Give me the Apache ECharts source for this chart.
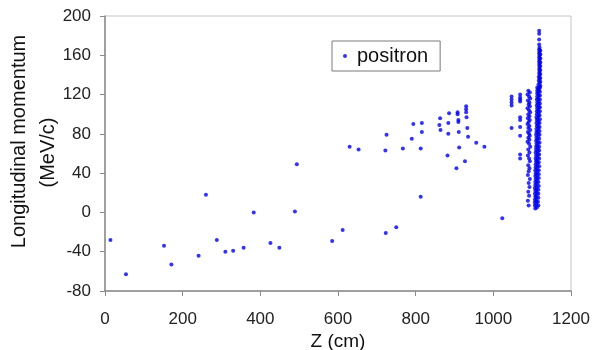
<!DOCTYPE html>
<html>
<head>
<meta charset="utf-8">
<script src="https://cdn.jsdelivr.net/npm/echarts@6/dist/echarts.min.js"></script>
<style>
  html, body { margin: 0; padding: 0; background: #fff; }
  #chart { width: 594px; height: 350px; }
</style>
</head>
<body>
<div id="chart"></div>
<script>
// positron tracks: Z (cm) vs longitudinal momentum (MeV/c)
const sparsePoints = [
  [14, -28], [54, -63], [152, -34], [171, -53], [241, -44], [260, 18], [288, -28],
  [310, -40], [330, -39], [357, -36], [383, 0], [426, -31], [449, -36], [489, 1],
  [494, 49], [585, -29], [612, -18], [630, 67], [653, 64], [722, 63], [723, -21],
  [725, 79], [750, -15], [767, 65], [790, 75], [794, 90], [813, 65], [813, 16],
  [816, 91], [816, 82], [861, 89], [863, 96], [864, 84], [882, 58], [884, 91],
  [884, 80], [886, 101], [905, 45], [908, 102], [908, 100], [910, 94], [910, 92],
  [911, 82], [912, 66], [927, 52], [930, 108], [930, 105], [930, 102], [931, 97],
  [933, 86], [935, 77], [956, 71], [977, 67], [1023, -6]
];

const nearExitPoints = [
  [1047, 118], [1047, 115], [1047, 112], [1047, 109], [1047, 86],
  [1069, 120], [1069, 117], [1069, 115], [1069, 113], [1069, 97], [1069, 94],
  [1069, 87], [1069, 78], [1069, 59], [1069, 55]
];

const secondColumn = [
  [1090, 124], [1094, 122], [1088, 120], [1092, 118], [1095, 116], [1089, 114],
  [1093, 112], [1091, 110], [1094, 108], [1088, 106], [1092, 104], [1095, 102],
  [1090, 100], [1093, 98], [1089, 96], [1094, 94], [1091, 92], [1088, 90],
  [1093, 88], [1090, 86], [1095, 84], [1089, 82], [1092, 80], [1094, 78],
  [1090, 76], [1093, 74], [1088, 72], [1092, 70], [1095, 67], [1090, 64],
  [1093, 61], [1089, 58], [1092, 55], [1094, 52], [1090, 48], [1093, 45],
  [1091, 42], [1089, 38], [1094, 34], [1091, 30], [1093, 26], [1090, 21],
  [1092, 17], [1089, 12], [1091, 7]
];

const mainTop = [
  [1118, 185], [1118, 182], [1118, 176], [1118, 171], [1119, 168], [1118, 166],
  [1119, 164], [1118, 162], [1119, 160], [1118, 158], [1119, 156], [1118, 154],
  [1119, 152], [1118, 150], [1119, 148], [1118, 146], [1119, 144], [1118, 142],
  [1119, 140], [1117, 138], [1119, 136], [1117, 134], [1119, 132], [1116, 130],
  [1119, 128], [1116, 126], [1121, 165], [1121, 161], [1121, 157], [1121, 153],
  [1121, 149], [1121, 145], [1121, 141], [1121, 137], [1121, 133], [1121, 129]
];

const mainStrandA = [
  [1113, 127], [1113, 124], [1113, 121], [1113, 118], [1112, 115], [1113, 112],
  [1112, 109], [1113, 106], [1112, 103], [1112, 100], [1111, 97], [1112, 94],
  [1111, 91], [1112, 88], [1111, 85], [1111, 82], [1110, 79], [1111, 76],
  [1110, 73], [1111, 70], [1110, 67], [1110, 64], [1109, 61], [1110, 58],
  [1109, 55], [1110, 52], [1109, 49], [1109, 46], [1108, 43], [1109, 40],
  [1108, 37], [1109, 34], [1108, 31], [1108, 28], [1107, 25], [1108, 22],
  [1107, 19], [1108, 16], [1107, 13], [1107, 10], [1107, 7], [1108, 4]
];

const mainStrandB = [
  [1117, 125], [1116, 122], [1117, 119], [1116, 116], [1117, 113], [1116, 110],
  [1117, 107], [1116, 104], [1116, 101], [1116, 98], [1115, 95], [1116, 92],
  [1115, 89], [1116, 86], [1115, 83], [1115, 80], [1115, 77], [1114, 74],
  [1115, 71], [1114, 68], [1115, 65], [1114, 62], [1114, 59], [1114, 56],
  [1113, 53], [1114, 50], [1113, 47], [1113, 44], [1113, 41], [1112, 38],
  [1113, 35], [1112, 32], [1112, 29], [1112, 26], [1111, 23], [1112, 20],
  [1111, 17], [1111, 14], [1111, 11], [1111, 8], [1112, 5]
];

const mainStrandC = [
  [1120, 127], [1120, 123], [1120, 119], [1120, 115], [1120, 111], [1120, 107],
  [1120, 103], [1119, 99], [1120, 95], [1119, 91], [1119, 87], [1119, 83],
  [1119, 79], [1118, 75], [1119, 71], [1118, 67], [1118, 63], [1118, 59],
  [1118, 55], [1117, 51], [1118, 47], [1117, 43], [1117, 39], [1117, 35],
  [1116, 31], [1117, 27], [1116, 23], [1116, 19], [1116, 15], [1115, 11],
  [1116, 7]
];

const xTicks = [0, 200, 400, 600, 800, 1000, 1200];
const yTicks = [-80, -40, 0, 40, 80, 120, 160, 200];

const allPoints = [].concat(sparsePoints, nearExitPoints, secondColumn,
  mainTop, mainStrandA, mainStrandB, mainStrandC);

const FONT = '"Liberation Sans", Arial, sans-serif';

const chart = echarts.init(document.getElementById('chart'));

chart.setOption({
  animation: false,
  grid: {
    left: 105, right: 23, top: 16, bottom: 59,
    outerBoundsMode: 'none',
    show: true, borderColor: '#c4c4c4', borderWidth: 1, backgroundColor: '#fff'
  },
  legend: {
    left: 332, top: 41,
    data: ['positron'],
    icon: 'circle', itemWidth: 4, itemHeight: 4,
    padding: [5, 12, 5, 11],
    borderColor: '#7a7a7a', borderWidth: 1, backgroundColor: '#fff',
    textStyle: { fontFamily: FONT, fontSize: 20, color: '#111', padding: [0, 0, 0, 5] }
  },
  xAxis: {
    type: 'value',
    min: xTicks[0], max: xTicks[xTicks.length - 1], interval: 200,
    name: 'Z (cm)', nameLocation: 'middle', nameGap: 41,
    nameMoveOverlap: false,
    nameTextStyle: { fontFamily: FONT, fontSize: 19, color: '#111' },
    axisLine: { show: true, onZero: false, lineStyle: { color: '#8a8a8a', width: 1.5 } },
    axisTick: { show: true, length: 5, lineStyle: { color: '#8a8a8a' } },
    axisLabel: { fontFamily: FONT, fontSize: 17, color: '#222', margin: 20,
      formatter: v => String(v) },
    splitLine: { show: false }
  },
  yAxis: {
    type: 'value',
    min: yTicks[0], max: yTicks[yTicks.length - 1], interval: 40,
    name: '{a|Longitudinal momentum}\n{b|(MeV/c)}', nameLocation: 'middle', nameGap: 42,
    nameRotate: 90,
    nameMoveOverlap: false,
    nameTextStyle: {
      fontFamily: FONT, fontSize: 20, color: '#111', lineHeight: 29,
      rich: {
        a: { fontFamily: FONT, fontSize: 20, color: '#111', lineHeight: 29, padding: [0, 0, 0, 24] },
        b: { fontFamily: FONT, fontSize: 20, color: '#111', lineHeight: 29, padding: [0, 0, 0, 2] }
      }
    },
    axisLine: { show: true, lineStyle: { color: '#8a8a8a', width: 1.5 } },
    axisTick: { show: true, length: 5, lineStyle: { color: '#8a8a8a' } },
    axisLabel: { fontFamily: FONT, fontSize: 17, color: '#222', margin: 14 },
    splitLine: { show: false }
  },
  series: [{
    name: 'positron',
    type: 'scatter',
    data: allPoints,
    symbol: 'circle',
    symbolSize: 4,
    itemStyle: { color: '#0000ee' }
  }]
});
</script>
</body>
</html>
